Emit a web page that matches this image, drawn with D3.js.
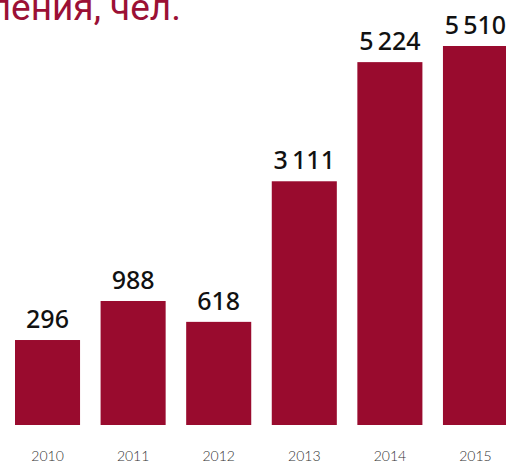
<!DOCTYPE html>
<html>
<head>
<meta charset="utf-8">
<script src="https://cdn.jsdelivr.net/npm/d3@7"></script>
<style>
  html, body { margin: 0; padding: 0; background: #fff; overflow: hidden; }
</style>
</head>
<body>
<div id="chart"></div>
<script>
// data
const years = ['2010', '2011', '2012', '2013', '2014', '2015']
const values = [296, 988, 618, 3111, 5224, 5510]
const labels = ['296', '988', '618', '3\u2009111', '5\u2009224', '5\u2009510']

const width = 506, height = 464
const barColor = '#990b2e'

const svg = d3.select('#chart').append('svg')
    .attr('width', width)
    .attr('height', height)

// title, cropped at the left and top edge in the original
svg.append('text')
    .attr('x', 181)
    .attr('y', 20)
    .attr('text-anchor', 'end')
    .attr('font-family', 'Roboto, sans-serif')
    .attr('font-size', 37)
    .attr('fill', '#9b1035')
    .text('Численность населения, чел.')

// scales
const x = d3.scaleBand()
    .domain(years)
    .range([15, 508])
    .paddingInner(0.24)
    .paddingOuter(0)

// baseline of the bars is not at zero in the original
const y = d3.scaleLinear()
    .domain([-1211, 5510])
    .range([425, 46])

// bars
svg.selectAll('rect.bar')
    .data(values)
    .join('rect')
    .attr('class', 'bar')
    .attr('x', (d, i) => x(years[i]))
    .attr('y', d => y(d))
    .attr('width', x.bandwidth())
    .attr('height', d => y(-1211) - y(d))
    .attr('fill', barColor)

// value labels
svg.selectAll('text.val')
    .data(values)
    .join('text')
    .attr('class', 'val')
    .attr('x', (d, i) => x(years[i]) + x.bandwidth() / 2)
    .attr('y', d => y(d) - 12)
    .attr('text-anchor', 'middle')
    .attr('font-family', '"Noto Sans", sans-serif')
    .attr('font-weight', 500)
    .attr('font-size', 25)
    .attr('fill', '#111')
    .text((d, i) => labels[i])

// x axis labels, no line or ticks
const xAxis = svg.append('g')
    .attr('transform', 'translate(0,' + 440 + ')')
    .call(d3.axisBottom(x).tickSize(0).tickPadding(0))
xAxis.select('.domain').remove()
xAxis.selectAll('text')
    .attr('dy', 21)
    .attr('font-family', 'Lato, sans-serif')
    .attr('font-weight', 300)
    .attr('font-size', 14)
    .attr('fill', '#333')
</script>
</body>
</html>
